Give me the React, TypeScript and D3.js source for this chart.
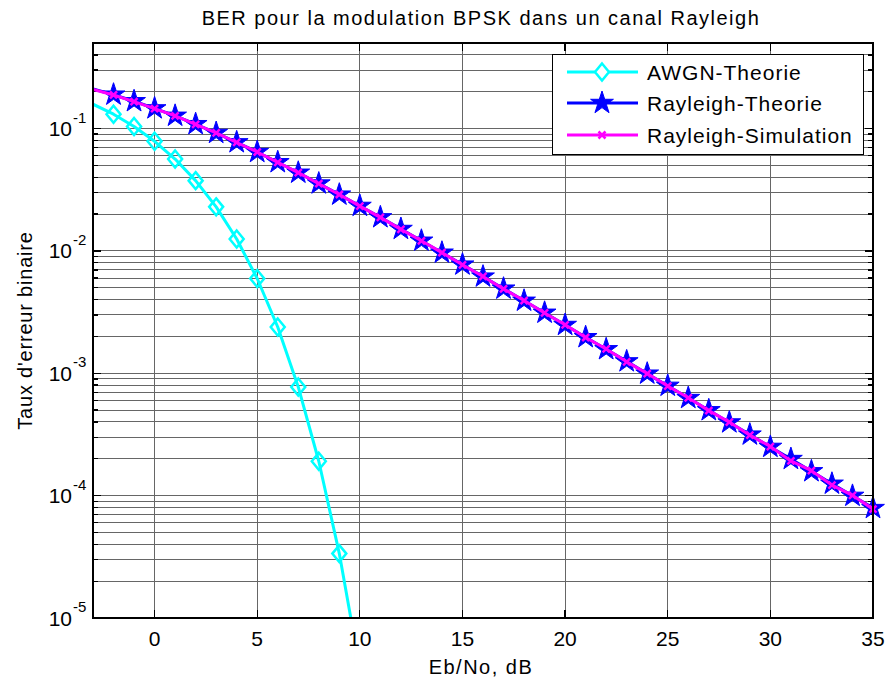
import React from 'react';
import * as d3 from 'd3';

// Eb/No axis values (dB)
const ebnoAwgn = [-3, -2, -1, 0, 1, 2, 3, 4, 5, 6, 7, 8, 9, 10];
const berAwgn = [0.158, 0.131, 0.104, 0.0786, 0.0563, 0.0375, 0.0229, 0.0125, 0.00595, 0.00239,
  0.000773, 0.000191, 0.0000336, 0.00000387];

const ebnoRay = [-3, -2, -1, 0, 1, 2, 3, 4, 5, 6, 7, 8, 9, 10, 11, 12, 13, 14, 15, 16, 17, 18, 19,
  20, 21, 22, 23, 24, 25, 26, 27, 28, 29, 30, 31, 32, 33, 34, 35];
const berRayTheory = [0.211, 0.189, 0.167, 0.146, 0.127, 0.1085, 0.0919, 0.0771, 0.0642, 0.053,
  0.0435, 0.0355, 0.0288, 0.0233, 0.0188, 0.0151, 0.0121, 0.00966, 0.00772, 0.00616, 0.00491,
  0.00391, 0.00312, 0.00248, 0.00197, 0.00157, 0.00125, 0.000992, 0.000789, 0.000627, 0.000498,
  0.000396, 0.000315, 0.00025, 0.000199, 0.000158, 0.000125, 0.0000995, 0.0000791];
const berRaySim = [0.209, 0.188, 0.166, 0.1455, 0.1268, 0.1083, 0.0921, 0.0769, 0.0643, 0.0529,
  0.0436, 0.0354, 0.0289, 0.0232, 0.0188, 0.015, 0.0121, 0.00968, 0.0077, 0.00618, 0.00489,
  0.00393, 0.00311, 0.00249, 0.00196, 0.00158, 0.00124, 0.000995, 0.000786, 0.00063, 0.000495,
  0.000399, 0.000312, 0.000252, 0.000192, 0.00016, 0.000122, 0.0001005, 0.0000775];

const xTickValues = [0, 5, 10, 15, 20, 25, 30, 35];
const yDecades = [1e-5, 1e-4, 1e-3, 1e-2, 1e-1];
const yDecadeExp = ['-5', '-4', '-3', '-2', '-1'];
const legendLabels = ['AWGN-Theorie', 'Rayleigh-Theorie', 'Rayleigh-Simulation'];

const W = 890;
const H = 679;
const font = '"Liberation Sans", Arial, Helvetica, sans-serif';

const starPath = (R: number, r: number) => {
  const pts = d3.range(10).map(i => {
    const a = (-90 + i * 36) * Math.PI / 180;
    const rad = i % 2 ? r : R;
    return [Math.cos(a) * rad, Math.sin(a) * rad];
  });
  return 'M' + pts.map(p => p.join(',')).join('L') + 'Z';
};
const diamondPath = 'M0,-8.5L7,0L0,8.5L-7,0Z';
const crossPath = 'M-3.5,-3.5L3.5,3.5M-3.5,3.5L3.5,-3.5';

export default function App() {
  const x = d3.scaleLinear().domain([-3, 35]).range([93, 873]);
  const y = d3.scaleLog().domain([1e-5, 0.5]).range([618, 43]);
  const [x0, x1] = x.range();
  const [y0, y1] = y.range();

  const line = d3.line<[number, number]>().x(d => x(d[0])).y(d => y(d[1]));
  const awgn = ebnoAwgn.map((e, i) => [e, berAwgn[i]] as [number, number]);
  const rayT = ebnoRay.map((e, i) => [e, berRayTheory[i]] as [number, number]);
  const rayS = ebnoRay.map((e, i) => [e, berRaySim[i]] as [number, number]);

  const yGrid = y.ticks();
  const star = starPath(12, 4.6);
  const isMajor = (v: number) => yDecades.some(d => Math.abs(d - v) / d < 1e-6);

  const legendRows = [72, 103, 135];

  return (
    <svg width={W} height={H} style={{ position: 'absolute', left: 0, top: 0, background: '#fff' }}
      fontFamily={font}>
      <rect x={0} y={0} width={W} height={H} fill="#fff" />
      <defs>
        <clipPath id="plot"><rect x={x0} y={y1} width={x1 - x0} height={y0 - y1} /></clipPath>
      </defs>

      {/* grid */}
      <g stroke="#666" strokeWidth={1} shapeRendering="crispEdges">
        {yGrid.map((v, i) => <line key={'gy' + i} x1={x0} x2={x1} y1={y(v)} y2={y(v)} />)}
        {xTickValues.map(v => <line key={'gx' + v} x1={x(v)} x2={x(v)} y1={y1} y2={y0} />)}
      </g>

      {/* ticks */}
      <g stroke="#000" strokeWidth={1.3} shapeRendering="crispEdges">
        {yGrid.map((v, i) => {
          const len = isMajor(v) ? 8 : 5;
          return (
            <g key={'ty' + i}>
              <line x1={x0} x2={x0 + len} y1={y(v)} y2={y(v)} />
              <line x1={x1} x2={x1 - len} y1={y(v)} y2={y(v)} />
            </g>
          );
        })}
        {xTickValues.map(v => (
          <g key={'tx' + v}>
            <line x1={x(v)} x2={x(v)} y1={y0} y2={y0 - 8} />
            <line x1={x(v)} x2={x(v)} y1={y1} y2={y1 + 8} />
          </g>
        ))}
      </g>

      {/* series */}
      <g clipPath="url(#plot)" fill="none" strokeWidth={3} strokeLinejoin="round">
        <path d={line(awgn) || ''} stroke="#00ffff" />
        <path d={line(rayT) || ''} stroke="#0000ff" />
      </g>
      <g fill="none" stroke="#00ffff" strokeWidth={2.5}>
        {awgn.filter(d => d[0] > -3 && d[1] >= 1e-5).map(d => (
          <path key={'ma' + d[0]} d={diamondPath} transform={`translate(${x(d[0])},${y(d[1])})`} />
        ))}
      </g>
      <g fill="#0000ff" stroke="#0000ff" strokeWidth={1}>
        {rayT.filter(d => d[0] > -3).map(d => (
          <path key={'mr' + d[0]} d={star} transform={`translate(${x(d[0])},${y(d[1])})`} />
        ))}
      </g>
      <g clipPath="url(#plot)" fill="none" strokeWidth={3} strokeLinejoin="round">
        <path d={line(rayS) || ''} stroke="#ff00ff" />
      </g>
      <g fill="none" stroke="#ff00ff" strokeWidth={2.5}>
        {rayS.filter(d => d[0] > -3).map(d => (
          <path key={'ms' + d[0]} d={crossPath} transform={`translate(${x(d[0])},${y(d[1])})`} />
        ))}
      </g>

      {/* axes box */}
      <rect x={x0} y={y1} width={x1 - x0} height={y0 - y1} fill="none" stroke="#000" strokeWidth={2}
        shapeRendering="crispEdges" />

      {/* tick labels */}
      <g fontSize={21} fill="#000">
        {xTickValues.map(v => (
          <text key={'lx' + v} x={x(v)} y={646} textAnchor="middle">{v}</text>
        ))}
        {yDecades.map((v, i) => (
          <g key={'ly' + i}>
            <text x={72} y={y(v) + 7.5} textAnchor="end">10</text>
            <text x={73} y={y(v) - 6} fontSize={15}>{yDecadeExp[i]}</text>
          </g>
        ))}
      </g>

      {/* title and axis labels */}
      <text x={481} y={25} textAnchor="middle" fontSize={20} letterSpacing={1.5}>
        BER pour la modulation BPSK dans un canal Rayleigh
      </text>
      <text x={481} y={674} textAnchor="middle" fontSize={20} letterSpacing={1.5}>Eb/No, dB</text>
      <text transform={`translate(32,${(y0 + y1) / 2}) rotate(-90)`} textAnchor="middle" fontSize={20}
        letterSpacing={0.8}>Taux d'erreur binaire</text>

      {/* legend */}
      <g>
        <rect x={552} y={54} width={311} height={100} fill="#fff" stroke="#000" strokeWidth={1}
          shapeRendering="crispEdges" />
        <line x1={567} x2={638} y1={legendRows[0]} y2={legendRows[0]} stroke="#00ffff" strokeWidth={3} />
        <path d={diamondPath} transform={`translate(602,${legendRows[0]})`} fill="#fff" stroke="#00ffff"
          strokeWidth={2.5} />
        <line x1={567} x2={638} y1={legendRows[1]} y2={legendRows[1]} stroke="#0000ff" strokeWidth={3} />
        <path d={star} transform={`translate(602,${legendRows[1]})`} fill="#0000ff" stroke="#0000ff" />
        <line x1={567} x2={638} y1={legendRows[2]} y2={legendRows[2]} stroke="#ff00ff" strokeWidth={3} />
        <path d={crossPath} transform={`translate(602,${legendRows[2]})`} fill="none" stroke="#ff00ff"
          strokeWidth={2.5} />
        {legendLabels.map((t, i) => (
          <text key={t} x={647} y={legendRows[i] + 7.5} fontSize={21} letterSpacing={1}>{t}</text>
        ))}
      </g>
    </svg>
  );
}
